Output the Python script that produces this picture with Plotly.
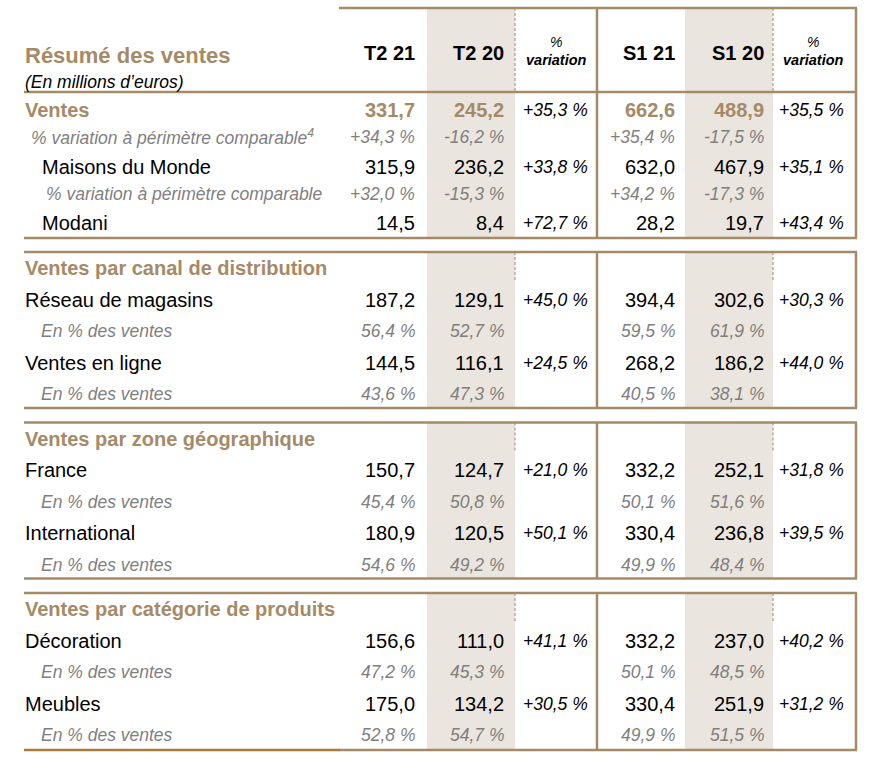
import plotly.graph_objects as go

# table content
col_heads = ["T2 21", "T2 20", "variation", "S1 21", "S1 20", "variation"]
section_titles = ["", "Ventes par canal de distribution", "Ventes par zone géographique",
                  "Ventes par catégorie de produits"]

labels = ["Ventes", "% variation à périmètre comparable<sup>4</sup>", "Maisons du Monde",
          "% variation à périmètre comparable", "Modani",
          "Réseau de magasins", "En % des ventes", "Ventes en ligne", "En % des ventes",
          "France", "En % des ventes", "International", "En % des ventes",
          "Décoration", "En % des ventes", "Meubles", "En % des ventes"]
row_section = [0, 0, 0, 0, 0, 1, 1, 1, 1, 2, 2, 2, 2, 3, 3, 3, 3]
row_kind = ["total", "chg", "val", "chg", "val",
            "val", "share", "val", "share",
            "val", "share", "val", "share",
            "val", "share", "val", "share"]

t2_21 = [331.7, 34.3, 315.9, 32.0, 14.5, 187.2, 56.4, 144.5, 43.6,
         150.7, 45.4, 180.9, 54.6, 156.6, 47.2, 175.0, 52.8]
t2_20 = [245.2, -16.2, 236.2, -15.3, 8.4, 129.1, 52.7, 116.1, 47.3,
         124.7, 50.8, 120.5, 49.2, 111.0, 45.3, 134.2, 54.7]
var_t2 = [35.3, None, 33.8, None, 72.7, 45.0, None, 24.5, None,
          21.0, None, 50.1, None, 41.1, None, 30.5, None]
s1_21 = [662.6, 35.4, 632.0, 34.2, 28.2, 394.4, 59.5, 268.2, 40.5,
         332.2, 50.1, 330.4, 49.9, 332.2, 50.1, 330.4, 49.9]
s1_20 = [488.9, -17.5, 467.9, -17.3, 19.7, 302.6, 61.9, 186.2, 38.1,
         252.1, 51.6, 236.8, 48.4, 237.0, 48.5, 251.9, 51.5]
var_s1 = [35.5, None, 35.1, None, 43.4, 30.3, None, 44.0, None,
          31.8, None, 39.5, None, 40.2, None, 31.2, None]

BROWN = "#A58A68"
SHADE = "#EAE5DE"
GREY = "#7F7F7F"
FONT = "Liberation Sans"


def fr(v, signed=False, pct=False):
    s = f"{abs(v):.1f}".replace(".", ",")
    if signed:
        s = ("+" if v >= 0 else "-") + s
    elif v < 0:
        s = "-" + s
    if pct:
        s += " %"
    return s


fig = go.Figure()
shapes = []
annos = []

num_right = [416.5, 505.5, None, 676.5, 765.5, None]
var_left = [520.5, 777]
shade_cols = [(427, 515), (685, 773)]
L, R, VMID = 24, 857, 597
PAD = 2.5  # annotation box padding


def hline(y, x0=L, x1=R, color=BROWN):
    shapes.append(dict(type="line", x0=x0, x1=x1, y0=y, y1=y,
                       line=dict(color=color, width=2.5)))


def vline(x, y0, y1, dash=None, width=2.5):
    shapes.append(dict(type="line", x0=x, x1=x, y0=y0, y1=y1,
                       line=dict(color=BROWN, width=width, dash=dash)))


def txt(x, y, s, anchor="left", size=20, color="black", bold=False, italic=False):
    annos.append(dict(x=x, y=y, xref="x", yref="y", text=s, showarrow=False,
                      xanchor=anchor, yanchor="middle", align="center",
                      font=dict(family=FONT, size=size, color=color,
                                weight="bold" if bold else "normal",
                                style="italic" if italic else "normal")))


def shade(y0, y1):
    for a, b in shade_cols:
        shapes.append(dict(type="rect", x0=a, x1=b, y0=y0, y1=y1, layer="below",
                           fillcolor=SHADE, line=dict(width=0)))


# header block
shade(8, 92)
hline(8, x0=339)
vline(VMID, 8, 92)
vline(R - 1, 8, 92)
for a, b in shade_cols:
    vline(b, 8, 92, dash="3px,2px", width=1)
txt(25 - PAD, 55, "Résumé des ventes", size=22, color=BROWN, bold=True)
txt(25 - PAD, 82, "(En millions d’euros)", size=17.5, italic=True)
for i, h in enumerate(col_heads):
    if num_right[i] is not None:
        txt(num_right[i], 53, h, anchor="right", size=20, bold=True)
    else:
        cx = 556 if i == 2 else 813
        txt(cx, 42, "%", anchor="center", size=14, italic=True)
        txt(cx, 60, h, anchor="center", size=14.5, bold=True, italic=True)

# section boxes
sec_top = [92, 252, 422.5, 593]
sec_bot = [238, 408, 578.5, 750]
for k in range(len(section_titles)):
    t, b = sec_top[k], sec_bot[k]
    shade(t, b)
    hline(t)
    if k == len(section_titles) - 1:
        hline(b, x0=339)
        hline(b, x1=340, color="#A77B3F")
    else:
        hline(b)
    vline(VMID, t, b)
    vline(R - 1, t, b)
    if section_titles[k]:
        for a, bb in shade_cols:
            vline(bb, t, t + 30, dash="3px,2px", width=1)
        txt(25 - PAD, t + 16, section_titles[k], size=20, color=BROWN, bold=True)

# rows
indent = {"total": 25, "val": 25, "share": 41}
y_prev = {}
chg_seen = 0
for r, lab in enumerate(labels):
    k = row_section[r]
    kind = row_kind[r]
    if k == 0:
        if r == 0:
            y = sec_top[0] + 18
        else:
            y = y_prev[r - 1] + (27 if kind == "chg" else 29.5)
    else:
        first = row_section.index(k)
        y = sec_top[k] + 16 + 31.5 * (r - first + 1)
    y_prev[r] = y

    if kind == "chg":
        lx = 31 if chg_seen == 0 else 46
        chg_seen += 1
    elif k == 0 and kind == "val":
        lx = 42
    else:
        lx = indent[kind]

    if kind == "total":
        style = dict(size=20, color=BROWN, bold=True)
    elif kind in ("chg", "share"):
        style = dict(size=17.5, color=GREY, italic=True)
    else:
        style = dict(size=20, color="black")
    txt(lx - PAD, y, lab, **style)

    vals = [t2_21[r], t2_20[r], s1_21[r], s1_20[r]]
    xs = [num_right[0], num_right[1], num_right[3], num_right[4]]
    for v, x in zip(vals, xs):
        s = fr(v, signed=(kind == "chg"), pct=(kind in ("chg", "share")))
        txt(x, y, s, anchor="right", **style)
    for v, x in zip([var_t2[r], var_s1[r]], var_left):
        if v is not None:
            txt(x, y, fr(v, signed=True, pct=True), size=17.5, color="black", italic=True)

fig.update_layout(
    width=874, height=763,
    margin=dict(l=0, r=0, t=0, b=0),
    paper_bgcolor="white", plot_bgcolor="white",
    xaxis=dict(range=[0, 874], visible=False, fixedrange=True),
    yaxis=dict(range=[763, 0], visible=False, fixedrange=True),
    shapes=shapes, annotations=annos, showlegend=False,
)

# drop the browser's default page margin so the table sits flush
fig.write_html("out.html", config={"displayModeBar": False},
               post_script="document.body.style.margin='0';document.body.style.overflow='hidden';")
